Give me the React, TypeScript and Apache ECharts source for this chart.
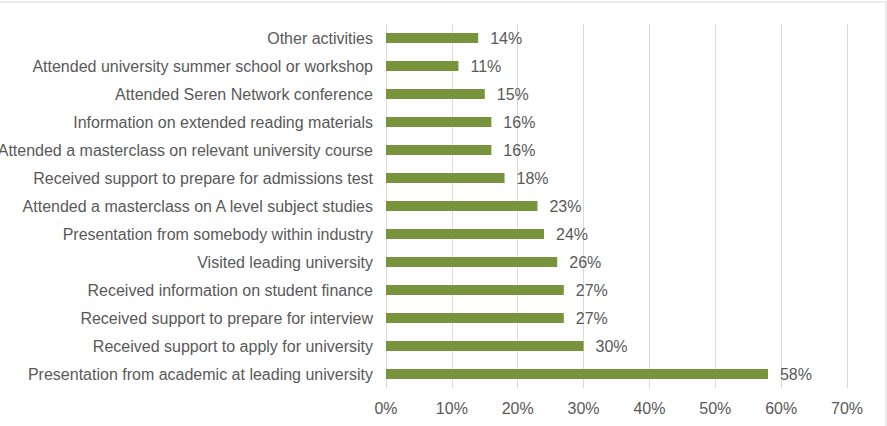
import React, { useEffect, useRef } from "react";
import * as echarts from "echarts";

const categories = [
  "Presentation from academic at leading university",
  "Received support to apply for university",
  "Received support to prepare for interview",
  "Received information on student finance",
  "Visited leading university",
  "Presentation from somebody within industry",
  "Attended a masterclass on A level subject studies",
  "Received support to prepare for admissions test",
  "Attended a masterclass on relevant university course",
  "Information on extended reading materials",
  "Attended Seren Network conference",
  "Attended university summer school or workshop",
  "Other activities",
];
const values = [58, 30, 27, 27, 26, 24, 23, 18, 16, 16, 15, 11, 14];

const FONT = "Liberation Sans, Arial, sans-serif";

export default function App() {
  const ref = useRef<HTMLDivElement>(null);
  useEffect(() => {
    const chart = echarts.init(ref.current!, null, { renderer: "svg" });
    chart.setOption({
      animation: false,
      graphic: [
        {
          type: "rect",
          shape: { x: -10, y: 2, width: 896, height: 440 },
          style: { fill: "none", stroke: "#d9d9d9", lineWidth: 1 },
          silent: true,
        },
      ],
      grid: {
        left: 386,
        right: 40,
        top: 24,
        bottom: 38,
        containLabel: false,
        outerBoundsMode: "none",
      },
      xAxis: {
        type: "value",
        min: 0,
        max: 70,
        interval: 10,
        axisLine: { show: false },
        axisTick: { show: false },
        splitLine: { lineStyle: { color: "#d9d9d9", width: 1 } },
        axisLabel: {
          formatter: "{value}%",
          color: "#595959",
          fontSize: 16,
          fontFamily: FONT,
          margin: 12,
        },
      },
      yAxis: {
        type: "category",
        data: categories,
        axisLine: { show: true, lineStyle: { color: "#d9d9d9" } },
        axisTick: { show: false },
        axisLabel: {
          color: "#595959",
          fontSize: 16,
          fontFamily: FONT,
          margin: 13,
        },
      },
      series: [
        {
          type: "bar",
          data: values,
          barWidth: 10,
          itemStyle: { color: "#77933C" },
          label: {
            show: true,
            position: "right",
            distance: 12,
            formatter: "{c}%",
            color: "#595959",
            fontSize: 16,
            fontFamily: FONT,
          },
        },
      ],
    });
    return () => chart.dispose();
  }, []);
  return <div ref={ref} style={{ width: 887, height: 426, position: "absolute", left: 0, top: 0 }} />;
}
